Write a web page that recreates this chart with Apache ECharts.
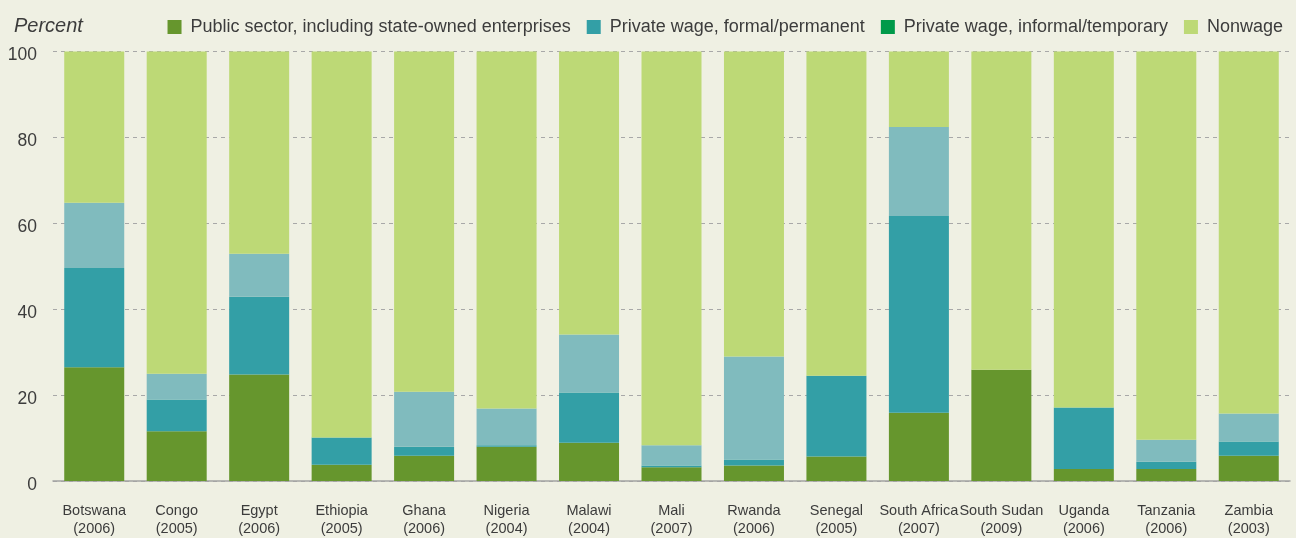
<!DOCTYPE html>
<html>
<head>
<meta charset="utf-8">
<script src="https://cdn.jsdelivr.net/npm/echarts@6/dist/echarts.min.js"></script>
<style>
html,body{margin:0;padding:0;background:#eff0e3;}
#c{width:1296px;height:538px;}
</style>
</head>
<body>
<div id="c"></div>
<script>
var categories = ['Botswana\n(2006)','Congo\n(2005)','Egypt\n(2006)','Ethiopia\n(2005)','Ghana\n(2006)','Nigeria\n(2004)','Malawi\n(2004)','Mali\n(2007)','Rwanda\n(2006)','Senegal\n(2005)','South Africa\n(2007)','South Sudan\n(2009)','Uganda\n(2006)','Tanzania\n(2006)','Zambia\n(2003)'];
var publicSector = [26.5, 11.6, 24.8, 3.8, 5.9, 8.0, 8.9, 3.2, 3.6, 5.7, 15.9, 25.9, 2.8, 2.8, 5.9];
var formalWage   = [23.1, 7.4, 18.1, 6.3, 2.1, 0.3, 11.7, 0.4, 1.4, 18.8, 45.8, 0, 14.3, 1.7, 3.3];
var informalWage = [15.2, 6.0, 10.0, 0, 12.8, 8.6, 13.5, 4.7, 24.0, 0, 20.7, 0, 0, 5.1, 6.5];
var nonwage      = [35.2, 75.0, 47.1, 89.9, 79.2, 83.1, 65.9, 91.7, 71.0, 75.5, 17.6, 74.1, 82.9, 90.4, 84.3];
var yTicks = [0, 20, 40, 60, 80, 100];
var seriesNames = ['Public sector, including state-owned enterprises','Private wage, formal/permanent','Private wage, informal/temporary','Nonwage'];

var barColors = ['#66962d','#339fa6','#80bbbe','#bdd976'];
var legendColors = ['#66962d','#339fa6','#009a4a','#bdd976'];
var seriesData = [publicSector, formalWage, informalWage, nonwage];

var chart = echarts.init(document.getElementById('c'));
var font = 'Liberation Sans, Arial, Helvetica, sans-serif';
chart.setOption({
  backgroundColor: '#eff0e3',
  animation: false,
  title: {
    text: 'Percent', left: 9, top: 11,
    textStyle: {fontFamily: font, fontSize: 20, fontStyle: 'italic', fontWeight: 'normal', color: '#3c3c3c'}
  },
  legend: {
    right: 8, top: 13,
    itemWidth: 14, itemHeight: 14, itemGap: 16,
    icon: 'rect',
    textStyle: {fontFamily: font, fontSize: 18, color: '#3c3c3c', padding: [0,0,0,4]},
    data: seriesNames.map(function(n, i){ return {name: n, itemStyle: {color: legendColors[i]}}; })
  },
  grid: {left: 53, right: 6, top: 51.5, bottom: 56.5, containLabel: false},
  xAxis: {
    type: 'category',
    data: categories,
    axisTick: {show: false},
    axisLine: {lineStyle: {color: '#a3a3a3', width: 1.5}},
    axisLabel: {
      interval: 0, margin: 21, lineHeight: 18,
      fontFamily: font,
      fontSize: 14.5, color: '#3c3c3c'
    }
  },
  yAxis: {
    type: 'value', min: 0, max: 100, interval: 20,
    axisLine: {show: false}, axisTick: {show: false},
    axisLabel: {margin: 16, fontFamily: font, fontSize: 17.5, color: '#3c3c3c',
      verticalAlign: 'top', lineHeight: 8,
      formatter: function(v){ return yTicks.indexOf(v) >= 0 ? String(v) : ''; }},
    splitLine: {lineStyle: {color: '#a8a8a8', type: [4, 4], width: 1}}
  },
  series: seriesNames.map(function(n, i){
    return {
      name: n, type: 'bar', stack: 'total', barWidth: 60,
      data: seriesData[i],
      itemStyle: {color: barColors[i]},
      emphasis: {disabled: true}
    };
  })
});
</script>
</body>
</html>
